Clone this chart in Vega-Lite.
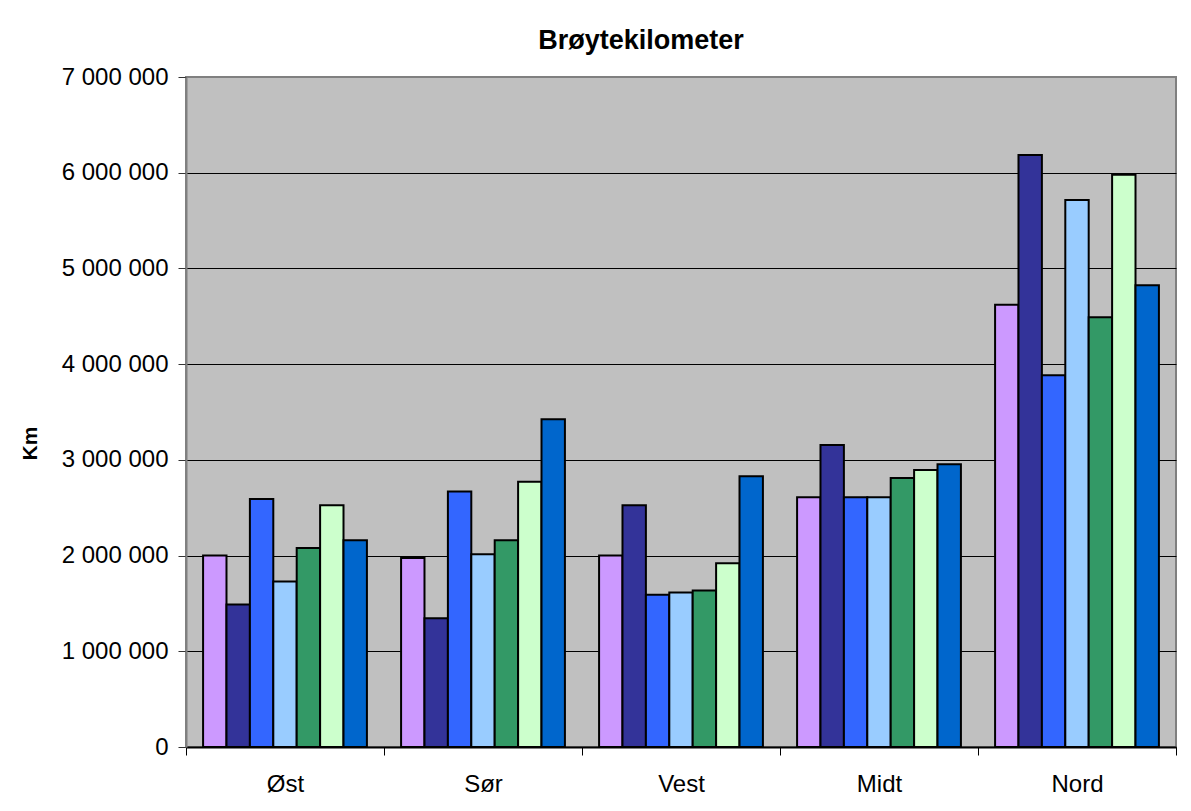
{
  "$schema": "https://vega.github.io/schema/vega-lite/v6.json",
  "width": 990,
  "height": 670,
  "autosize": {"type": "none"},
  "padding": {"left": 186, "top": 77, "right": 15, "bottom": 64},
  "background": "white",
  "title": {"text": "Brøytekilometer", "font": "Liberation Sans", "fontSize": 27, "fontWeight": "bold", "color": "#000", "anchor": "middle", "frame": "group", "dx": -40, "offset": 10},
  "data": {"values": [
    {"region": "Øst", "serie": "Serie 1", "km": 2000000},
    {"region": "Øst", "serie": "Serie 2", "km": 1490000},
    {"region": "Øst", "serie": "Serie 3", "km": 2590000},
    {"region": "Øst", "serie": "Serie 4", "km": 1730000},
    {"region": "Øst", "serie": "Serie 5", "km": 2080000},
    {"region": "Øst", "serie": "Serie 6", "km": 2525000},
    {"region": "Øst", "serie": "Serie 7", "km": 2160000},
    {"region": "Sør", "serie": "Serie 1", "km": 1975000},
    {"region": "Sør", "serie": "Serie 2", "km": 1345000},
    {"region": "Sør", "serie": "Serie 3", "km": 2670000},
    {"region": "Sør", "serie": "Serie 4", "km": 2015000},
    {"region": "Sør", "serie": "Serie 5", "km": 2160000},
    {"region": "Sør", "serie": "Serie 6", "km": 2770000},
    {"region": "Sør", "serie": "Serie 7", "km": 3425000},
    {"region": "Vest", "serie": "Serie 1", "km": 2000000},
    {"region": "Vest", "serie": "Serie 2", "km": 2525000},
    {"region": "Vest", "serie": "Serie 3", "km": 1590000},
    {"region": "Vest", "serie": "Serie 4", "km": 1615000},
    {"region": "Vest", "serie": "Serie 5", "km": 1635000},
    {"region": "Vest", "serie": "Serie 6", "km": 1920000},
    {"region": "Vest", "serie": "Serie 7", "km": 2830000},
    {"region": "Midt", "serie": "Serie 1", "km": 2610000},
    {"region": "Midt", "serie": "Serie 2", "km": 3155000},
    {"region": "Midt", "serie": "Serie 3", "km": 2610000},
    {"region": "Midt", "serie": "Serie 4", "km": 2610000},
    {"region": "Midt", "serie": "Serie 5", "km": 2810000},
    {"region": "Midt", "serie": "Serie 6", "km": 2895000},
    {"region": "Midt", "serie": "Serie 7", "km": 2955000},
    {"region": "Nord", "serie": "Serie 1", "km": 4620000},
    {"region": "Nord", "serie": "Serie 2", "km": 6185000},
    {"region": "Nord", "serie": "Serie 3", "km": 3885000},
    {"region": "Nord", "serie": "Serie 4", "km": 5715000},
    {"region": "Nord", "serie": "Serie 5", "km": 4490000},
    {"region": "Nord", "serie": "Serie 6", "km": 5980000},
    {"region": "Nord", "serie": "Serie 7", "km": 4825000}
  ]},
  "mark": {"type": "bar", "stroke": "#000", "strokeWidth": 2},
  "encoding": {
    "x": {
      "field": "region", "type": "nominal",
      "sort": ["Øst", "Sør", "Vest", "Midt", "Nord"],
      "scale": {"paddingInner": 0, "paddingOuter": 0},
      "axis": {"title": null, "labelAngle": 0, "labelFont": "Liberation Sans", "labelFontSize": 24, "labelColor": "#000", "labelPadding": 17, "tickBand": "extent", "tickSize": 8, "tickColor": "#000", "tickWidth": 1, "domainColor": "#000", "domainWidth": 2, "grid": false}
    },
    "xOffset": {"field": "serie", "type": "nominal", "scale": {"paddingInner": 0, "paddingOuter": 0.73}},
    "y": {
      "field": "km", "type": "quantitative",
      "scale": {"domain": [0, 7000000], "nice": false},
      "axis": {
        "values": [0, 1000000, 2000000, 3000000, 4000000, 5000000, 6000000, 7000000],
        "format": ",d",
        "title": "Km", "titleFont": "Liberation Sans", "titleFontSize": 21, "titleFontWeight": "bold", "titleColor": "#000",
        "titleAngle": -90, "titleX": -156, "titleY": 366, "titleAlign": "center", "titleBaseline": "middle",
        "labelFont": "Liberation Sans", "labelFontSize": 24, "labelColor": "#000", "labelPadding": 10,
        "tickSize": 8, "tickColor": "#333", "tickWidth": 1,
        "domainColor": "#808080", "domainWidth": 2,
        "grid": true,
        "gridColor": {"condition": {"test": "datum.value == 7000000", "value": "#808080"}, "value": "#000"},
        "gridWidth": 1
      }
    },
    "color": {
      "field": "serie", "type": "nominal",
      "scale": {"domain": ["Serie 1", "Serie 2", "Serie 3", "Serie 4", "Serie 5", "Serie 6", "Serie 7"],
                "range": ["#CC99FF", "#333399", "#3366FF", "#99CCFF", "#339966", "#CCFFCC", "#0066CC"]},
      "legend": null
    }
  },
  "config": {
    "view": {"fill": "#C0C0C0", "stroke": "#808080", "strokeWidth": 2},
    "locale": {"number": {"decimal": ",", "thousands": " ", "grouping": [3], "currency": ["", " kr"]}}
  }
}
